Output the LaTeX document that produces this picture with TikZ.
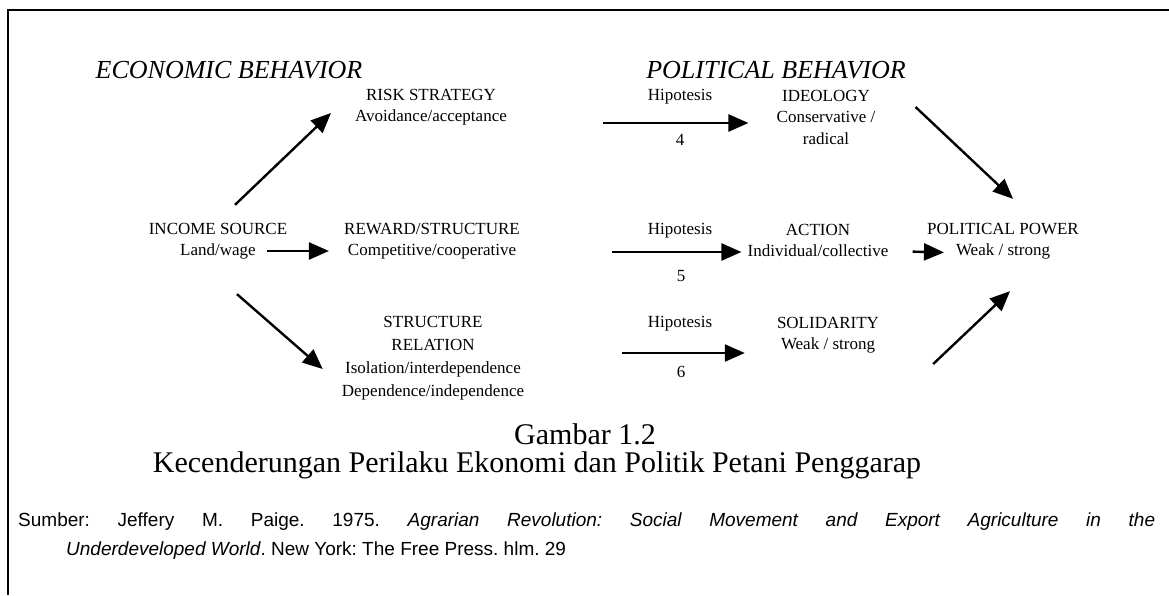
\documentclass[tikz,border=0pt]{standalone}
\usepackage{fontspec}
\setmainfont{Liberation Serif}
\setsansfont{Liberation Sans}
\usetikzlibrary{arrows.meta}

\tikzset{
  lbl/.style={align=center, inner sep=0pt, font=\fontsize{17}{21}\selectfont},
  head/.style={inner sep=0pt, font=\fontsize{26}{30}\selectfont\itshape},
  capt/.style={inner sep=0pt, font=\fontsize{30}{34}\selectfont},
  arr/.style={line width=2.4pt, -{Triangle[length=20pt,width=17pt]}},
}

\begin{document}
\begin{tikzpicture}[x=1pt,y=-1pt]
  \useasboundingbox (0,0) rectangle (1169,595);
  % frame
  \draw[line width=2.5pt] (1169,10) -- (8,10) -- (8,595);

  \node[head] (econ) at (229,70) {ECONOMIC BEHAVIOR};
  \node[head] (polit) at (776,70) {POLITICAL BEHAVIOR};

  % economic side
  \node[lbl] (risk) at (431,107) {RISK STRATEGY\\Avoidance/acceptance};
  \node[lbl] (income) at (218,241) {INCOME SOURCE\\Land/wage};
  \node[lbl] (reward) at (432,241) {REWARD/STRUCTURE\\Competitive/cooperative};
  \node[lbl, font=\fontsize{17}{23}\selectfont] (struct) at (433,358)
    {STRUCTURE\\RELATION\\Isolation/interdependence\\Dependence/independence};

  % hypotheses
  \node[lbl] (hip1) at (680,97) {Hipotesis};
  \node[lbl] (hip2) at (680,231) {Hipotesis};
  \node[lbl] (hip3) at (680,324) {Hipotesis};
  \node[lbl] (num4) at (680,140) {4};
  \node[lbl] (num5) at (681,276) {5};
  \node[lbl] (num6) at (681,372) {6};

  % political side
  \node[lbl, font=\fontsize{17}{21.5}\selectfont] (ideo) at (826,117) {IDEOLOGY\\Conservative /\\radical};
  \node[lbl] (action) at (818,240) {ACTION\\Individual/collective};
  \node[lbl] (solid) at (828,335) {SOLIDARITY\\Weak / strong};
  \node[lbl] (power) at (1003,241) {POLITICAL POWER\\Weak / strong};

  % arrows
  \draw[arr] ([shift={(17,-18)}]income.north) -- ([shift={(-24,6)}]risk.west);
  \draw[arr, shorten <=-20pt, shorten >=15pt] ([yshift=-10pt]income.east) -- ([yshift=-10pt]reward.west);
  \draw[arr] ([shift={(19,35)}]income.south) -- ([shift={(-19,11)}]struct.west);
  \draw[arr, shorten <=96pt, shorten >=28pt] ([yshift=-16pt]risk.east) -- ([yshift=-6pt]ideo.west);
  \draw[arr, shorten <=92pt, shorten >=6pt] ([yshift=-11pt]reward.east) -- ([yshift=-12pt]action.west);
  \draw[arr, shorten <=98pt, shorten >=32pt] ([yshift=5pt]struct.east) -- ([yshift=-18pt]solid.west);
  \draw[arr] ([shift={(40,-10)}]ideo.east) -- ([shift={(10,-24)}]power.north);
  \draw[arr, shorten <=24pt, shorten >=-17pt] ([yshift=-11pt]action.east) -- ([yshift=-11pt]power.west);
  \draw[arr] ([shift={(54,29)}]solid.east) -- ([shift={(7,32)}]power.south);

  % caption
  \node[capt] (gambar) at (585,434) {Gambar 1.2};
  \node[capt] (judul) at (537,465) {Kecenderungan Perilaku Ekonomi dan Politik Petani Penggarap};

  \node[inner sep=0pt, anchor=north west, text width=1137pt, align=justify,
        font=\sffamily\fontsize{19}{29}\selectfont\frenchspacing] (sumber) at (18,513)
    {\hangindent=48pt\hangafter=1
     Sumber: Jeffery M. Paige. 1975. \textit{Agrarian Revolution: Social Movement and Export Agriculture in the}\linebreak
     \textit{Underdeveloped World}. New York: The Free Press. hlm. 29\par};
\end{tikzpicture}
\end{document}
